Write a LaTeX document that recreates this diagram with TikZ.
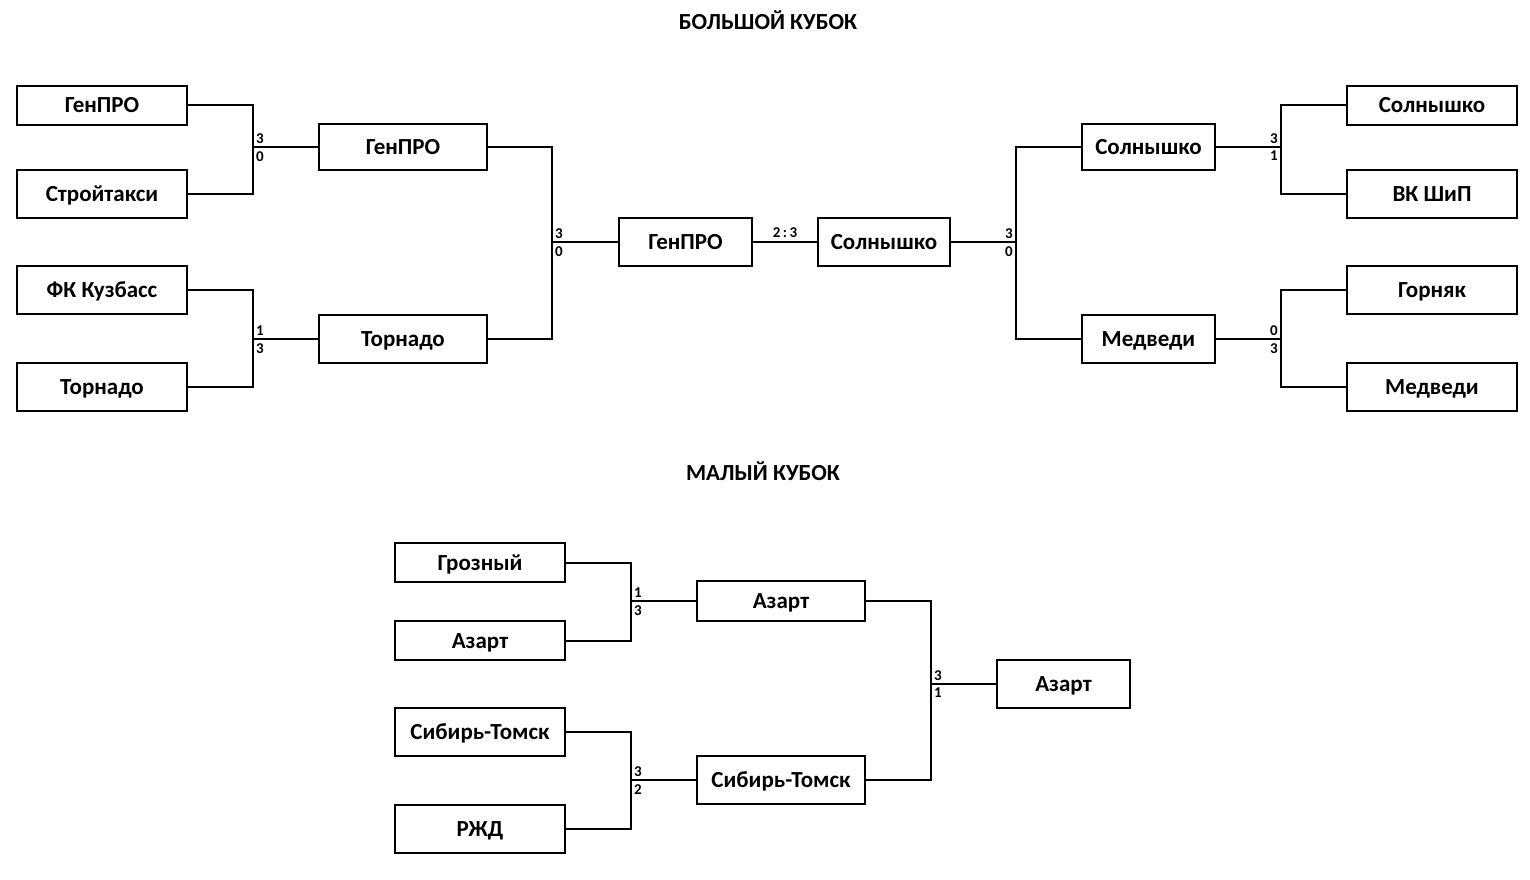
\documentclass[tikz,border=0pt]{standalone}
\usepackage{fontspec}
\setmainfont{Carlito}
\begin{document}
\begin{tikzpicture}[x=1pt,y=-1pt,
  team/.style={draw, line width=2.2pt, inner sep=0pt, minimum width=170pt, text height=15pt, text depth=0pt, font=\fontsize{23}{26}\selectfont\bfseries},
  conn/.style={line width=2pt},
  score/.style={inner sep=0pt, font=\fontsize{15}{17}\selectfont\bfseries},
  title/.style={inner sep=0pt, font=\fontsize{23}{26}\selectfont\bfseries}]
\useasboundingbox (0,0) rectangle (1530,880);
% titles
\node[title] (t1) at (768,20) {БОЛЬШОЙ КУБОК};
\node[title] (t2) at (763,471) {МАЛЫЙ КУБОК};
% top left
\node[team, minimum height=39pt] (L1) at (102,105.5) {ГенПРО};
\node[team, minimum height=48pt] (L2) at (102,194) {Стройтакси};
\node[team, minimum height=48pt] (L3) at (102,290) {ФК Кузбасс};
\node[team, minimum height=48pt] (L4) at (102,387) {Торнадо};
\node[team, minimum width=168pt, minimum height=46pt] (M1) at (403,147) {ГенПРО};
\node[team, minimum width=168pt, minimum height=48pt] (M2) at (403,339) {Торнадо};
\node[team, minimum width=133pt, minimum height=48pt] (F1) at (685.5,242) {ГенПРО};
\node[team, minimum width=132pt, minimum height=48pt] (F2) at (884,242) {Солнышко};
% top right
\node[team, minimum width=133pt, minimum height=46pt] (RM1) at (1148.5,147) {Солнышко};
\node[team, minimum width=133pt, minimum height=48pt] (RM2) at (1148.5,339) {Медведи};
\node[team, minimum height=39pt] (R1) at (1432,105.5) {Солнышко};
\node[team, minimum height=48pt] (R2) at (1432,194) {ВК ШиП};
\node[team, minimum height=48pt] (R3) at (1432,290) {Горняк};
\node[team, minimum height=48pt] (R4) at (1432,387) {Медведи};
% junctions top
\coordinate (j1) at (253,147);
\coordinate (j2) at (253,339);
\coordinate (j3) at (552,242);
\coordinate (j4) at (1016,242);
\coordinate (j5) at (1281,147);
\coordinate (j6) at (1281,339);
\draw[conn] (L1.east) -| (j1) |- (L2.east);
\draw[conn] (j1) -- (M1.west);
\draw[conn] (L3.east) -| (j2) |- (L4.east);
\draw[conn] (j2) -- (M2.west);
\draw[conn] (M1.east) -| (j3) |- (M2.east);
\draw[conn] (j3) -- (F1.west);
\draw[conn] (F1.east) -- (F2.west);
\draw[conn] (F2.east) -- (j4);
\draw[conn] (RM1.west) -| (j4) |- (RM2.west);
\draw[conn] (R1.west) -| (j5) |- (R2.west);
\draw[conn] (j5) -- (RM1.east);
\draw[conn] (R3.west) -| (j6) |- (R4.west);
\draw[conn] (j6) -- (RM2.east);
% scores top
\node[score, anchor=south west] (s1a) at ([xshift=3pt,yshift=3pt]j1) {3};
\node[score, anchor=north west] (s1b) at ([xshift=3pt,yshift=-4pt]j1) {0};
\node[score, anchor=south west] (s2a) at ([xshift=3pt,yshift=3pt]j2) {1};
\node[score, anchor=north west] (s2b) at ([xshift=3pt,yshift=-4pt]j2) {3};
\node[score, anchor=south west] (s3a) at ([xshift=3pt,yshift=3pt]j3) {3};
\node[score, anchor=north west] (s3b) at ([xshift=3pt,yshift=-4pt]j3) {0};
\node[score, anchor=south east] (s4a) at ([xshift=-3pt,yshift=3pt]j4) {3};
\node[score, anchor=north east] (s4b) at ([xshift=-3pt,yshift=-4pt]j4) {0};
\node[score, anchor=south east] (s5a) at ([xshift=-3pt,yshift=3pt]j5) {3};
\node[score, anchor=north east] (s5b) at ([xshift=-3pt,yshift=-4pt]j5) {1};
\node[score, anchor=south east] (s6a) at ([xshift=-3pt,yshift=3pt]j6) {0};
\node[score, anchor=north east] (s6b) at ([xshift=-3pt,yshift=-4pt]j6) {3};
\node[score, anchor=south] (sf) at (785,238) {2\,:\,3};
% bottom bracket
\node[team, minimum height=39pt] (B1) at (480,562.5) {Грозный};
\node[team, minimum height=39pt] (B2) at (480,640.5) {Азарт};
\node[team, minimum height=48pt] (B3) at (480,732) {Сибирь-Томск};
\node[team, minimum height=48pt] (B4) at (480,829) {РЖД};
\node[team, minimum width=168pt, minimum height=40pt] (C1) at (781,601) {Азарт};
\node[team, minimum width=168pt, minimum height=48pt] (C2) at (781,780) {Сибирь-Томск};
\node[team, minimum width=133pt, minimum height=48pt] (D1) at (1063.5,684) {Азарт};
\coordinate (j7) at (631,601);
\coordinate (j8) at (631,780);
\coordinate (j9) at (931,684);
\draw[conn] (B1.east) -| (j7) |- (B2.east);
\draw[conn] (j7) -- (C1.west);
\draw[conn] (B3.east) -| (j8) |- (B4.east);
\draw[conn] (j8) -- (C2.west);
\draw[conn] (C1.east) -| (j9) |- (C2.east);
\draw[conn] (j9) -- (D1.west);
\node[score, anchor=south west] (s7a) at ([xshift=3pt,yshift=3pt]j7) {1};
\node[score, anchor=north west] (s7b) at ([xshift=3pt,yshift=-4pt]j7) {3};
\node[score, anchor=south west] (s8a) at ([xshift=3pt,yshift=3pt]j8) {3};
\node[score, anchor=north west] (s8b) at ([xshift=3pt,yshift=-4pt]j8) {2};
\node[score, anchor=south west] (s9a) at ([xshift=3pt,yshift=3pt]j9) {3};
\node[score, anchor=north west] (s9b) at ([xshift=3pt,yshift=-4pt]j9) {1};
\end{tikzpicture}
\end{document}
